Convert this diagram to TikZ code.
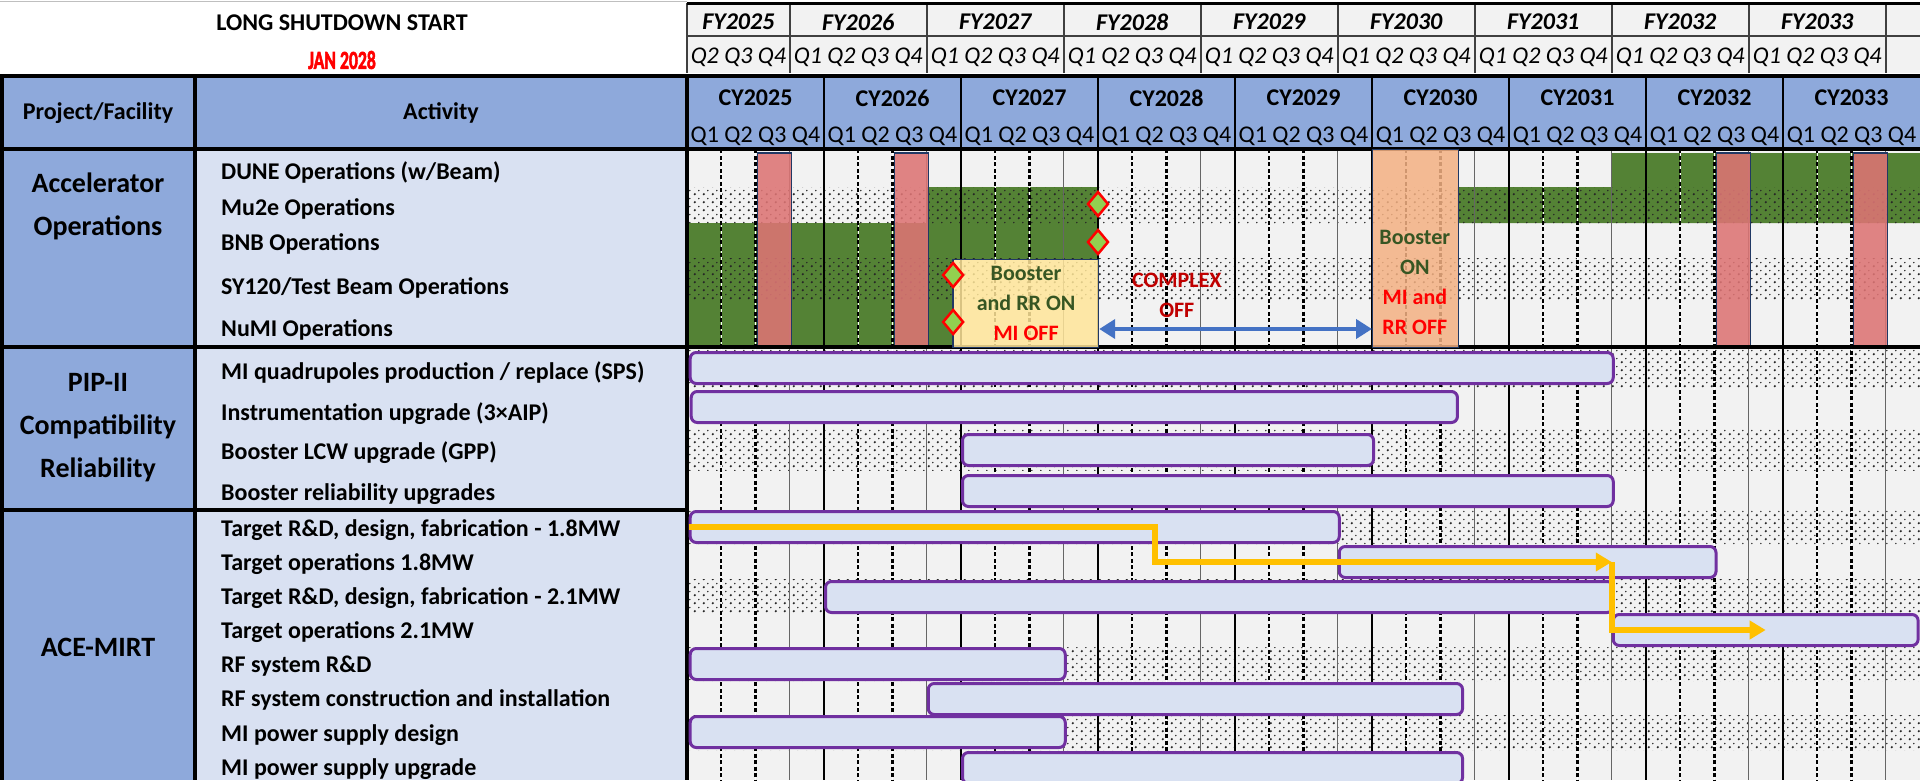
\documentclass[tikz,border=0pt]{standalone}
\usepackage{fontspec}
\setmainfont{Carlito}
\newfontfamily\heavyfont{Carlito}[BoldFeatures={FakeBold=2.5}]
\usepackage{graphicx}
\usetikzlibrary{shapes.geometric, arrows.meta, patterns.meta, positioning, calc}
\definecolor{headblue}{RGB}{142, 169, 219}
\definecolor{paleblue}{RGB}{217, 225, 242}
\definecolor{cellgray}{RGB}{242, 242, 242}
\definecolor{opsgreen}{RGB}{84, 130, 53}
\definecolor{darkgreen}{RGB}{55, 86, 35}
\definecolor{shutred}{RGB}{221, 116, 116}
\definecolor{boxyellow}{RGB}{255, 230, 153}
\definecolor{boxorange}{RGB}{244, 177, 131}
\definecolor{barpurple}{RGB}{112, 48, 160}
\definecolor{arrowgold}{RGB}{255, 192, 0}
\definecolor{arrowblue}{RGB}{68, 114, 196}
\definecolor{diamondgreen}{RGB}{146, 208, 80}
\definecolor{offred}{RGB}{192, 0, 0}
\definecolor{navyedge}{RGB}{32, 56, 100}
\tikzdeclarepattern{
  name=celldots,
  type=uncolored,
  bottom left={(0pt,0pt)},
  top right={(9pt,8pt)},
  tile size={(9pt,8pt)},
  code={
    \fill (2pt,2pt) circle [radius=1.35pt];
    \fill (6.5pt,6pt) circle [radius=0.9pt];
  }
}
\newcommand{\qw}{34.25pt}
\tikzset{
  headtext/.style={font=\fontsize{24}{26}\selectfont\bfseries},
  fytext/.style={font=\fontsize{24}{26}\selectfont\bfseries\itshape},
  fyqtext/.style={font=\fontsize{24}{26}\selectfont\itshape},
  cyqtext/.style={font=\fontsize{24}{26}\selectfont},
  grouptext/.style={align=center, font=\fontsize{28}{43}\selectfont\bfseries},
  acttext/.style={anchor=west, inner sep=0pt, text height=15.5pt, text depth=0pt, font=\fontsize{24}{26}\selectfont\bfseries},
  notetext/.style={align=center, inner sep=0pt, font=\fontsize{22}{30}\selectfont\bfseries},
  actbar/.style={draw=barpurple, line width=3pt, fill=paleblue, rounded corners=6pt, anchor=west, inner sep=0pt, minimum height=31pt},
  shutbar/.style={fill=shutred, fill opacity=0.88, draw=navyedge, line width=1.2pt},
  modebox/.style={draw=navyedge, line width=1.2pt, fill opacity=0.85, inner sep=0pt, anchor=north west},
  milestone/.style={diamond, draw=red, fill=diamondgreen, line width=2.5pt, minimum width=21pt, minimum height=25pt, inner sep=0pt},
  goldarrow/.style={-{Triangle[length=16pt, width=18pt]}, line width=5.5pt, arrowgold},
  bluearrow/.style={{Triangle[length=16pt, width=19pt]}-{Triangle[length=16pt, width=19pt]}, line width=4pt, arrowblue},
  qline/.style={line width=2.2pt, dash pattern=on 4pt off 2.5pt, preaction={draw=white, solid}},
  fyline/.style={line width=1pt, black!60},
  yearline/.style={line width=2.6pt},
  frameline/.style={line width=4pt}
}

\begin{document}
\begin{tikzpicture}[x=1pt, y=-1pt]
    \useasboundingbox (0,0) rectangle (1920,780);
    \fill[white] (0,0) rectangle (1920,780);
    \fill[headblue] (0,76) rectangle (1920,149);
    \fill[headblue] (0,149) rectangle (195,780);
    \fill[paleblue] (195,149) rectangle (687,780);
    \fill[cellgray] (687,149) rectangle (1920,780);
    \fill[cellgray] (687,3) rectangle (1920,73);
    \draw[black!25, line width=1pt] (0,1.5) -- (687,1.5);

    \begin{scope}[xshift=687pt, x=\qw]
        \fill[opsgreen] (0,223) -- (7,223) -- (7,187) -- (12,187) -- (12,259) -- (7.75,259) -- (7.75,347) -- (0,347) -- cycle;
        \fill[opsgreen] (22.5,187) -- (27,187) -- (27,153) -- (36,153) -- (36,223) -- (22.5,223) -- cycle;
        \foreach \ya/\yb in {187/223, 258/300, 347/388, 428/470, 510/544, 579/613, 647/681, 715/750}
            \fill[pattern=celldots, pattern color=black!85] (0,\ya) rectangle (36,\yb);
        \foreach \q in {1,2,5,6,9,10,13,14,17,18,21,22,25,26,29,30,33,34}
            \draw[qline] (\q,149) -- (\q,780);
        \foreach \q in {3,7,...,35}
            \draw[fyline] (\q,149) -- (\q,780);
        \foreach \q in {0,3,7,...,35}
            \draw[line width=1.5pt, black!75] (\q,3) -- (\q,73);
        \draw[line width=3pt] (0,3) -- (36,3);
        \draw[line width=1.5pt, black!75] (0,36) -- (36,36);
        \foreach \q in {4,8,...,32}
            \draw[yearline] (\q,76) -- (\q,780);
        \foreach \q in {2,6,30,34}
            \path[shutbar] (\q+0.05,153) rectangle (\q+1.05,347);

        \node (fy2025) [fytext] at (1.5,22) {FY2025};
        \node (fyq2025) [fyqtext] at (1.5,57) {Q2 Q3 Q4};
        \foreach \k in {0,...,7}{
            \pgfmathtruncatemacro{\yr}{2026+\k}
            \node (fy\yr) [fytext] at ({5+4*\k},22) {FY\yr};
            \node (fyq\yr) [fyqtext] at ({5+4*\k},57) {Q1 Q2 Q3 Q4};
        }
        \foreach \k in {0,...,8}{
            \pgfmathtruncatemacro{\yr}{2025+\k}
            \node (cy\yr) [headtext] at ({2+4*\k},98) {CY\yr};
            \node (cyq\yr) [cyqtext] at ({2+4*\k},136) {Q1 Q2 Q3 Q4};
        }
    \end{scope}

    \draw[frameline] (0,76) -- (1920,76);
    \draw[frameline] (0,149) -- (1920,149);
    \draw[frameline] (0,347) -- (1920,347);
    \draw[frameline] (0,510) -- (687,510);
    \draw[frameline] (2,76) -- (2,780);
    \draw[frameline] (195,76) -- (195,780);
    \draw[frameline] (687,76) -- (687,780);

    \node (title) [headtext] at (342,23) {LONG SHUTDOWN START};
    \node (startdate) [headtext, text=red] at (342,60) {\fontsize{26}{28}\selectfont\heavyfont\bfseries\scalebox{0.68}[1]{JAN 2028}};
    \node (colproj) [headtext] at (98,113) {Project/Facility};
    \node (colact) [headtext] at (441,113) {Activity};

    \node (grpacc) [grouptext] at (98,206) {Accelerator\\Operations};
    \node (grppip) [grouptext] at (98,428) {PIP-II\\Compatibility\\Reliability};
    \node (grpace) [grouptext] at (98,647) {ACE-MIRT};

    \node (dune) [acttext] at (221,172) {DUNE Operations (w/Beam)};
    \node (mutwoe) [acttext] at (221,208) {Mu2e Operations};
    \node (bnb) [acttext] at (221,243) {BNB Operations};
    \node (sytest) [acttext] at (221,287) {SY120/Test Beam Operations};
    \node (numi) [acttext] at (221,329) {NuMI Operations};
    \node (lblmiquad) [acttext] at (221,372) {MI quadrupoles production / replace (SPS)};
    \node (lblinstr) [acttext] at (221,413) {Instrumentation upgrade (3×AIP)};
    \node (lbllcw) [acttext] at (221,452) {Booster LCW upgrade (GPP)};
    \node (lblbrel) [acttext] at (221,493) {Booster reliability upgrades};
    \node (lbltrd18) [acttext] at (221,529) {Target R\&D, design, fabrication - 1.8MW};
    \node (lbltops18) [acttext] at (221,563) {Target operations 1.8MW};
    \node (lbltrd21) [acttext] at (221,597) {Target R\&D, design, fabrication - 2.1MW};
    \node (lbltops21) [acttext] at (221,631) {Target operations 2.1MW};
    \node (lblrfrd) [acttext] at (221,665) {RF system R\&D};
    \node (lblrfcon) [acttext] at (221,699) {RF system construction and installation};
    \node (lblmipsd) [acttext] at (221,734) {MI power supply design};
    \node (lblmipsu) [acttext] at (221,768) {MI power supply upgrade};

    \begin{scope}[xshift=687pt, x=\qw]
        \node (switchA) [modebox, fill=boxyellow, minimum width=4.25*\qw, minimum height=88pt] at (7.75,259) {};
        \node (switchB) [modebox, fill=boxorange, minimum width=2.5*\qw, minimum height=198pt] at (20,149) {};
        \node (msmutwoe) [milestone] at (12,204) {};
        \node (msbnb) [milestone] at (12,242) {};
        \node (mssy) [milestone] at (7.77,275) {};
        \node (msnumi) [milestone] at (7.77,322) {};
        \node (noteA) [notetext] at (9.9,303) {\textcolor{darkgreen}{Booster}\\\textcolor{darkgreen}{and RR ON}\\\textcolor{red}{MI OFF}};
        \node (noteC) [notetext, text=offred] at (14.3,295) {COMPLEX\\OFF};
        \node (noteB) [notetext] at (21.25,282) {\textcolor{darkgreen}{Booster}\\\textcolor{darkgreen}{ON}\\\textcolor{red}{MI and}\\\textcolor{red}{RR OFF}};

        \node (miquad) [actbar, minimum width=26.95*\qw] at (0.05,368) {};
        \node (instr) [actbar, minimum width=22.37*\qw] at (0.08,407) {};
        \node (lcw) [actbar, minimum width=12*\qw] at (8,450) {};
        \node (brel) [actbar, minimum width=19*\qw] at (8,491) {};
        \node (trd18) [actbar, minimum width=18.95*\qw] at (0.05,527) {};
        \node (tops18) [actbar, minimum width=11*\qw] at (19,562) {};
        \node (trd21) [actbar, minimum width=23*\qw] at (4,597) {};
        \node (tops21) [actbar, minimum width=8.9*\qw] at (27,630) {};
        \node (rfrd) [actbar, minimum width=10.95*\qw] at (0.05,664) {};
        \node (rfcon) [actbar, minimum width=15.6*\qw] at (7,699) {};
        \node (mipsd) [actbar, minimum width=10.95*\qw] at (0.05,732) {};
        \node (mipsu) [actbar, minimum width=14.6*\qw] at (8,768) {};

        \coordinate (stepx) at (13.66,0);
        \draw[goldarrow] (trd18.west) -| (stepx |- tops18.center) -- (tops21.west |- tops18.center);
        \draw[goldarrow] (tops21.west |- tops18.center) |- (tops21.center);
        \draw[bluearrow] (switchA.east |- numi.west) -- (switchB.west |- numi.west);
    \end{scope}
\end{tikzpicture}
\end{document}
